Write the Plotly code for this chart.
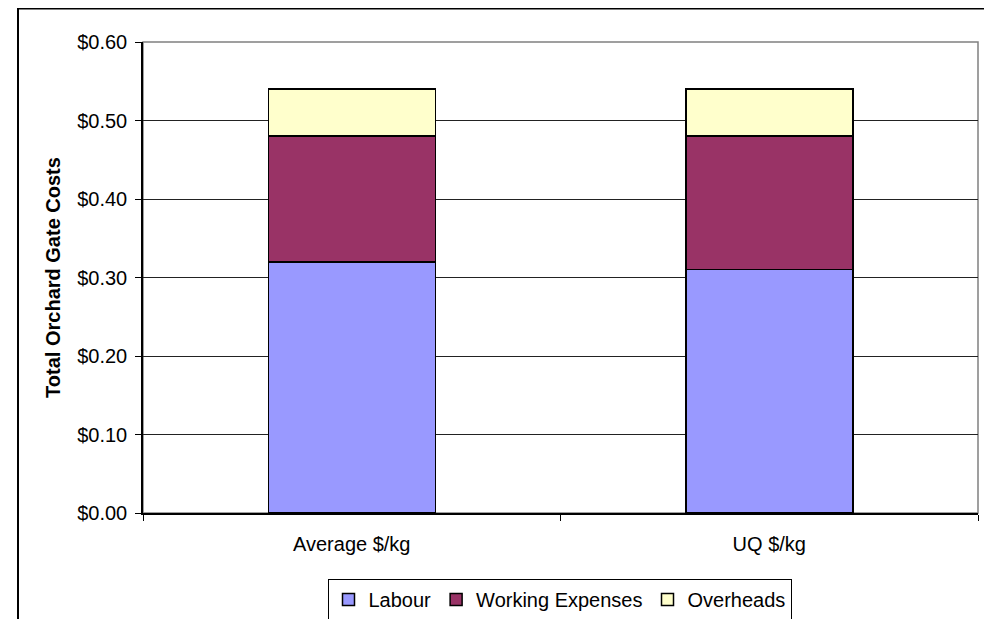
import plotly.graph_objects as go

categories = ['Average $/kg', 'UQ $/kg']
labour = [0.32, 0.31]
working_expenses = [0.16, 0.17]
overheads = [0.06, 0.06]

LABOUR = '#9999FF'
WORKING = '#993366'
OVERHEADS = '#FFFFCC'
FONT = 'Arial, Liberation Sans, sans-serif'

# the page body has an 8px margin, so work in page pixels and shift by 8
OFF = 8
W, H = 992 - OFF, 619 - OFF
L, R, T, B = 143 - OFF, 978 - OFF, 42 - OFF, 513 - OFF


def px(x):
    return (x - OFF - L) / (R - L)


def py(y):
    return (B - (y - OFF)) / (B - T)


fig = go.Figure()
for name, vals, col in [('Labour', labour, LABOUR),
                        ('Working Expenses', working_expenses, WORKING),
                        ('Overheads', overheads, OVERHEADS)]:
    fig.add_trace(go.Bar(x=categories, y=vals, name=name,
                         marker=dict(color=col, line=dict(color='#000000', width=1.5))))

fig.update_layout(
    width=W, height=H,
    barmode='stack', bargap=0.6,
    margin=dict(l=L, r=W - R, t=T, b=H - B, autoexpand=False),
    plot_bgcolor='white', paper_bgcolor='white',
    font=dict(family=FONT, size=20, color='#000000'),
    showlegend=True,
    legend=dict(orientation='h',
                xref='container', x=(559.5 - OFF) / W, xanchor='center',
                yref='container', y=1 - (579 - OFF) / H, yanchor='top',
                bordercolor='#000000', borderwidth=1,
                font=dict(size=20), traceorder='normal',
                itemwidth=30),
    shapes=[
        # plot area border (gray)
        dict(type='rect', xref='paper', yref='paper', x0=0, x1=1, y0=0, y1=1,
             line=dict(color='#808080', width=1.5), layer='below'),
        # outer chart border
        dict(type='line', xref='paper', yref='paper', x0=px(18), x1=px(18),
             y0=py(8), y1=py(640), line=dict(color='#000000', width=2)),
        dict(type='line', xref='paper', yref='paper', x0=px(18), x1=px(1000),
             y0=py(8.5), y1=py(8.5), line=dict(color='#000000', width=2)),
        dict(type='line', xref='paper', yref='paper', x0=px(990), x1=px(990),
             y0=py(8), y1=py(640), line=dict(color='#C0C0C0', width=2)),
    ],
)

fig.update_yaxes(range=[0, 0.6], dtick=0.1, tickformat='$.2f',
                 showgrid=True, gridcolor='#222222', gridwidth=1,
                 showline=True, linecolor='#000000', linewidth=1.5,
                 ticks='outside', ticklen=6, tickcolor='#000000',
                 ticklabelstandoff=4, zeroline=False, automargin=False,
                 title=dict(text='<b>Total Orchard Gate Costs</b>',
                            font=dict(size=20), standoff=11))
fig.update_xaxes(showline=True, linecolor='#000000', linewidth=1.5,
                 ticks='outside', ticklen=6, tickcolor='#000000',
                 tickson='boundaries', ticklabelstandoff=12, automargin=False)

fig.write_html('out.html')
